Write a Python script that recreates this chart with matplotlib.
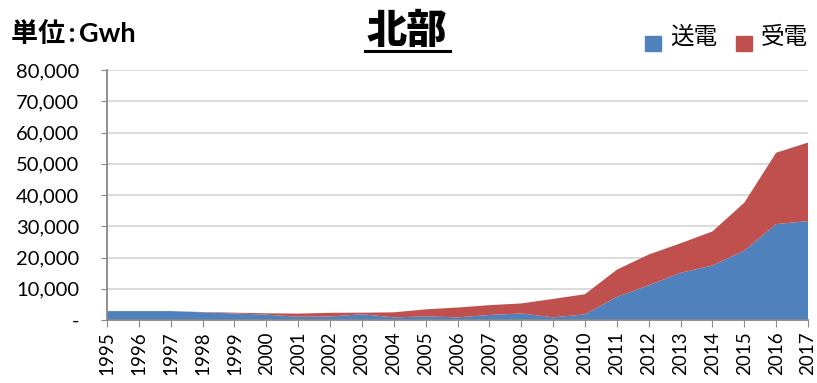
import matplotlib.pyplot as plt
from matplotlib.lines import Line2D
from matplotlib.patches import Rectangle
from matplotlib.ticker import FuncFormatter

# -----------------------------------------------------
# Data (Gwh)
# -----------------------------------------------------
years = list(range(1995, 2018))
send = [2850, 2850, 2850, 2450, 2100, 1700, 1050, 1100, 1850, 850, 1150,
        850, 1600, 2100, 850, 1800, 7400, 11100, 15100, 17450, 22200,
        30700, 31650]
receive = [0, 0, 0, 100, 250, 450, 1000, 1200, 500, 1600, 2250,
           3150, 3150, 3200, 5900, 6450, 8700, 9850, 9450, 10900, 15350,
           22850, 25150]

series_names = ["送電", "受電"]
colors = ["#4F81BD", "#C0504D"]

plt.rcParams["font.family"] = ["Lato", "Noto Sans CJK JP", "DejaVu Sans"]
jp = ["Noto Sans CJK JP", "DejaVu Sans"]

fig = plt.figure(figsize=(8.17, 3.83), dpi=100)
ax = fig.add_axes([0.131, 0.1645, 0.858, 0.6525])

ax.stackplot(years, send, receive, colors=colors, linewidth=0)

ax.set_xlim(1995, 2017)
ax.set_ylim(0, 80000)
ax.set_xticks(years)
ax.set_xticklabels([str(y) for y in years], rotation=90, fontsize=13.5)
ax.set_yticks(range(0, 80001, 10000))
ax.yaxis.set_major_formatter(
    FuncFormatter(lambda v, p: "-" if v == 0 else f"{int(v):,}"))
ax.tick_params(axis="y", labelsize=14.5, length=4, color="#888888", pad=16)
ax.tick_params(axis="x", length=5, color="#888888", pad=3)

ax.grid(axis="y", color="#D9D9D9", linewidth=1.3)
ax.set_axisbelow(True)
for side in ["top", "right"]:
    ax.spines[side].set_visible(False)
for side in ["left", "bottom"]:
    ax.spines[side].set_color("#888888")
    ax.spines[side].set_linewidth(1.3)

# Title with underline
fig.text(0.4975, 0.918, "北部", fontsize=29, fontweight="black",
         family=jp, ha="center", va="center")
fig.add_artist(Line2D([0.447, 0.551], [0.867, 0.867], color="black",
                      linewidth=2.2))

# Unit label
fig.text(0.014, 0.912, "単位\u2009:\u2009Gwh", fontsize=19.5, fontweight="bold",
         ha="left", va="center")

# Legend
leg_x = [0.790, 0.901]
for x, name, c in zip(leg_x, series_names, colors):
    fig.add_artist(Rectangle((x, 0.867), 0.0196, 0.039, color=c,
                             transform=fig.transFigure))
    fig.text(x + 0.030, 0.903, name, fontsize=17, family=jp,
             ha="left", va="center")

fig.savefig("out.png", dpi=100)
